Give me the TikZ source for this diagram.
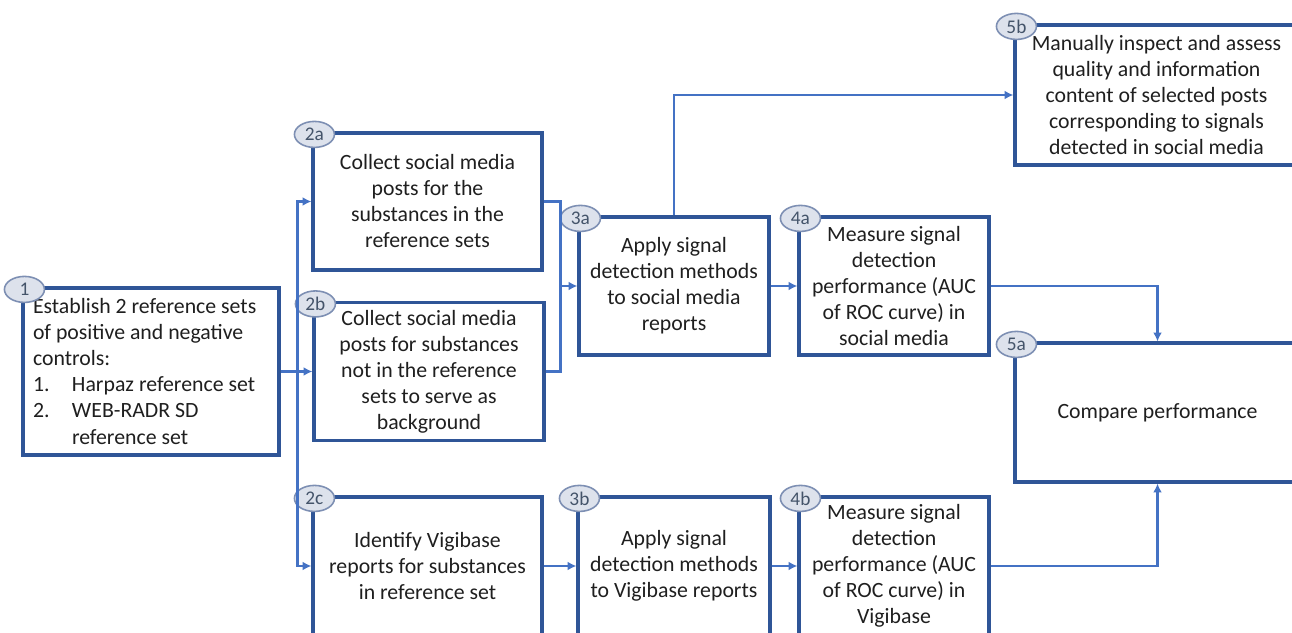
\documentclass[tikz,border=0pt]{standalone}
\usepackage{fontspec}
\setmainfont{Carlito}
\usetikzlibrary{arrows.meta,shapes.geometric}
\definecolor{boxblue}{HTML}{2F5597}
\definecolor{linkblue}{HTML}{4472C4}
\definecolor{tagfill}{HTML}{DDE2EC}
\definecolor{tagline}{HTML}{7D8FB3}
\definecolor{tagtext}{HTML}{44546A}
\definecolor{ink}{HTML}{1F1F1F}

\begin{document}
\begin{tikzpicture}[
    stage/.style={draw=boxblue, line width=1.8pt, fill=white, text=ink, align=center,
      inner sep=0pt, font=\fontsize{12.4}{14.8}\selectfont},
    tag/.style={ellipse, draw=tagline, line width=0.9pt, fill=tagfill, text=tagtext,
      inner sep=0pt, minimum width=0.8cm, minimum height=0.52cm, font=\fontsize{11}{12}\selectfont},
    link/.style={draw=linkblue, line width=1.3pt},
    flow/.style={link, -{Latex[length=5pt,width=5pt]}}
  ]
  \useasboundingbox (0,0) rectangle (25.84,12.64);
  \clip (0,0) rectangle (25.84,12.64);

  \node[stage, align=flush left, text width=4.72cm, minimum width=5.12cm, minimum height=3.34cm] (b1) at (3.02,5.21)
    {Establish 2 reference sets\\of positive and negative\\controls:\\
     \makebox[0.78cm][l]{1.}Harpaz reference set\\
     \makebox[0.78cm][l]{2.}WEB-RADR SD\\
     \hspace*{0.78cm}reference set};
  \node[stage, minimum width=4.58cm, minimum height=2.74cm] (b2a) at (8.55,8.61)
    {Collect social media\\posts for the\\substances in the\\reference sets};
  \node[stage, minimum width=4.6cm, minimum height=2.76cm] (b2b) at (8.58,5.21)
    {Collect social media\\posts for substances\\not in the reference\\sets to serve as\\background};
  \node[stage, minimum width=4.58cm, minimum height=2.76cm] (b2c) at (8.55,1.32)
    {Identify Vigibase\\reports for substances\\in reference set};
  \node[stage, minimum width=3.8cm, minimum height=2.76cm] (b3a) at (13.48,6.92)
    {Apply signal\\detection methods\\to social media\\reports};
  \node[stage, minimum width=3.84cm, minimum height=2.76cm] (b3b) at (13.48,1.32)
    {Apply signal\\detection methods\\to Vigibase reports};
  \node[stage, minimum width=3.8cm, minimum height=2.76cm] (b4a) at (17.88,6.92)
    {Measure signal\\detection\\performance (AUC\\of ROC curve) in\\social media};
  \node[stage, minimum width=3.8cm, minimum height=2.76cm] (b4b) at (17.88,1.32)
    {Measure signal\\detection\\performance (AUC\\of ROC curve) in\\Vigibase};
  \node[stage, minimum width=5.66cm, minimum height=2.8cm] (b5b) at (23.13,10.74)
    {Manually inspect and assess\\quality and information\\content of selected posts\\corresponding to signals\\detected in social media};
  \node[stage, minimum width=5.7cm, minimum height=2.78cm] (b5a) at (23.15,4.39)
    {Compare performance};

  \foreach \n in {1,2a,2b,2c,3a,3b,4a,4b,5a,5b}
    \node[tag] (t\n) at ([shift={(0.06,-0.06)}]b\n.north west) {\n};

  \coordinate (split) at ([xshift=0.34cm]b1.east);
  \coordinate (join) at ([xshift=-0.34cm]b3a.west);

  \draw[flow] (b1.east) -- (b2b.west);
  \draw[flow] (split) |- (b2a.west);
  \draw[flow] (split) |- (b2c.west);
  \draw[link] (b2a.east) -| (join);
  \draw[link] (b2b.east) -| (join);
  \draw[flow] (join) -- (b3a.west);
  \draw[flow] (b2c.east) -- (b3b.west);
  \draw[flow] (b3a.east) -- (b4a.west);
  \draw[flow] (b3b.east) -- (b4b.west);
  \draw[flow] (b3a.north) |- (b5b.west);
  \draw[flow] (b4a.east) -| (b5a.north);
  \draw[flow] (b4b.east) -| (b5a.south);
\end{tikzpicture}
\end{document}
